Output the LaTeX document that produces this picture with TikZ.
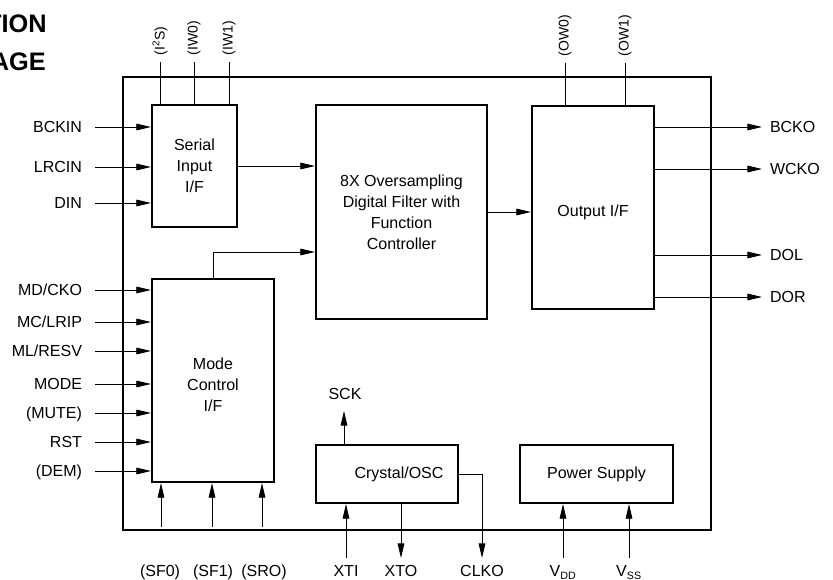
\documentclass[tikz,border=0pt]{standalone}
\usepackage{fontspec}
\setmainfont{Liberation Sans}
\usetikzlibrary{arrows.meta}

\begin{document}
\begin{tikzpicture}[x=0.75pt, y=-0.75pt, >={Triangle[length=11pt,width=5pt]},
  blk/.style={draw, line width=1.6pt, inner sep=0pt, align=center, font=\fontsize{12}{15.75}\selectfont},
  wire/.style={line width=0.7pt},
  lpin/.style={anchor=east, inner xsep=9.75pt, inner ysep=0pt, outer sep=0pt, text height=8.6pt, text depth=0pt, font=\fontsize{12}{14}\selectfont},
  rpin/.style={anchor=west, inner xsep=6pt, inner ysep=0pt, outer sep=0pt, text height=8.6pt, text depth=0pt, font=\fontsize{12}{14}\selectfont},
  tpin/.style={rotate=90, anchor=west, inner xsep=5pt, inner ysep=0pt, outer sep=0pt, font=\fontsize{10.5}{12}\selectfont},
  bpin/.style={anchor=base, inner sep=0pt, font=\fontsize{12}{14}\selectfont}]
\useasboundingbox (0,0) rectangle (833,580);
% ---------- title (cut off at the left edge) ----------
\node[anchor=base east, inner sep=0pt, font=\fontsize{19}{22}\selectfont\bfseries] (titleA) at (47,33) {TION};
\node[anchor=base east, inner sep=0pt, font=\fontsize{19}{22}\selectfont\bfseries] (titleB) at (46,71) {AGE};
% ---------- chip outline ----------
\draw[line width=1.8pt] (123,77) rectangle (711,530);
% ---------- blocks ----------
\node[blk, minimum width=63.75pt, minimum height=91.5pt] (serial) at (194.5,166) {Serial\\Input\\I/F};
\node[blk, minimum width=128.25pt, minimum height=160.5pt] (filter) at (401.5,212) {8X Oversampling\\Digital Filter with\\Function\\Controller};
\node[blk, minimum width=91.5pt, minimum height=152.25pt] (output) at (593,207.5) {};
\node[inner sep=0pt, font=\fontsize{12}{14}\selectfont] (outputtxt) at (593,212) {Output I/F};
\node[blk, minimum width=91.5pt, minimum height=152.25pt] (mode) at (213,380.5) {};
\node[inner sep=0pt, align=center, font=\fontsize{12}{15.75}\selectfont] (modetxt) at (213,385) {Mode\\Control\\I/F};
\node[blk, minimum width=106.5pt, minimum height=43.5pt] (crystal) at (387,474) {};
\node[inner sep=0pt, font=\fontsize{12}{14}\selectfont] (crystaltxt) at (399,474) {Crystal/OSC};
\node[blk, minimum width=114.75pt, minimum height=43.5pt] (power) at (596.5,474) {Power Supply};
% ---------- top pins ----------
\node[tpin] (i2s) at (160,62) {(I\textsuperscript{2}S)};
\node[tpin] (iw0) at (194,62) {(IW0)};
\node[tpin] (iw1) at (229,62) {(IW1)};
\draw[wire] (i2s.west) -- (i2s.west |- serial.north);
\draw[wire] (iw0.west) -- (iw0.west |- serial.north);
\draw[wire] (iw1.west) -- (iw1.west |- serial.north);
\node[tpin] (ow0) at (565,63) {(OW0)};
\node[tpin] (ow1) at (625,63) {(OW1)};
\draw[wire] (ow0.west) -- (ow0.west |- output.north);
\draw[wire] (ow1.west) -- (ow1.west |- output.north);
% ---------- serial inputs ----------
\node[lpin] (bckin) at (95,127) {BCKIN};
\node[lpin] (lrcin) at (95,167) {LRCIN};
\node[lpin] (din) at (95,203) {DIN};
\draw[wire, ->] (bckin.east) -- (bckin.east -| serial.west);
\draw[wire, ->] (lrcin.east) -- (lrcin.east -| serial.west);
\draw[wire, ->] (din.east) -- (din.east -| serial.west);
% ---------- mode inputs ----------
\node[lpin] (mdcko) at (95,290) {MD/CKO};
\node[lpin] (mclrip) at (95,322) {MC/LRIP};
\node[lpin] (mlresv) at (95,351) {ML/RESV};
\node[lpin] (modein) at (95,384) {MODE};
\node[lpin] (mute) at (95,413) {(MUTE)};
\node[lpin] (rst) at (95,442) {RST};
\node[lpin] (dem) at (95,471) {(DEM)};
\draw[wire, ->] (mdcko.east) -- (mdcko.east -| mode.west);
\draw[wire, ->] (mclrip.east) -- (mclrip.east -| mode.west);
\draw[wire, ->] (mlresv.east) -- (mlresv.east -| mode.west);
\draw[wire, ->] (modein.east) -- (modein.east -| mode.west);
\draw[wire, ->] (mute.east) -- (mute.east -| mode.west);
\draw[wire, ->] (rst.east) -- (rst.east -| mode.west);
\draw[wire, ->] (dem.east) -- (dem.east -| mode.west);
% ---------- outputs ----------
\node[rpin] (bcko) at (762,127) {BCKO};
\node[rpin] (wcko) at (762,169) {WCKO};
\node[rpin] (dol) at (762,255) {DOL};
\node[rpin] (dor) at (762,297) {DOR};
\draw[wire, ->] (bcko.west -| output.east) -- (bcko.west);
\draw[wire, ->] (wcko.west -| output.east) -- (wcko.west);
\draw[wire, ->] (dol.west -| output.east) -- (dol.west);
\draw[wire, ->] (dor.west -| output.east) -- (dor.west);
% ---------- internal paths ----------
\draw[wire, ->] (serial.east) -- (serial.east -| filter.west);
\draw[wire, ->] (filter.east) -- (filter.east -| output.west);
\coordinate (modeup) at (213,252);
\draw[wire, ->] (mode.north) -- (modeup) -- (modeup -| filter.west);
% ---------- mode select pins ----------
\node[bpin] (sf0) at (160,577) {(SF0)};
\node[bpin] (sf1) at (213,577) {(SF1)};
\node[bpin] (sro) at (264,577) {(SRO)};
\coordinate (sf0pin) at (161,527);
\coordinate (sf1pin) at (212,527);
\coordinate (sropin) at (262,527);
\draw[wire, ->] (sf0pin) -- (sf0pin |- mode.south);
\draw[wire, ->] (sf1pin) -- (sf1pin |- mode.south);
\draw[wire, ->] (sropin) -- (sropin |- mode.south);
% ---------- crystal / oscillator ----------
\node[bpin] (sck) at (345,400) {SCK};
\coordinate (sckend) at (344,411);
\draw[wire, ->] (sckend |- crystal.north) -- (sckend);
\node[bpin] (xti) at (346,577) {XTI};
\node[bpin] (xto) at (401,577) {XTO};
\node[bpin] (clko) at (482,577) {CLKO};
\coordinate (xtipin) at (346,558);
\coordinate (xtopin) at (401,558);
\coordinate (clkopin) at (482,558);
\draw[wire, ->] (xtipin) -- (xtipin |- crystal.south);
\draw[wire, ->] (xtopin |- crystal.south) -- (xtopin);
\draw[wire, ->] (crystal.east) -| (clkopin);
% ---------- power ----------
\node[bpin] (vdd) at (563,577) {V\textsubscript{DD}};
\node[bpin] (vss) at (629,577) {V\textsubscript{SS}};
\coordinate (vddpin) at (563,558);
\coordinate (vsspin) at (629,558);
\draw[wire, ->] (vddpin) -- (vddpin |- power.south);
\draw[wire, ->] (vsspin) -- (vsspin |- power.south);
\end{tikzpicture}
\end{document}
